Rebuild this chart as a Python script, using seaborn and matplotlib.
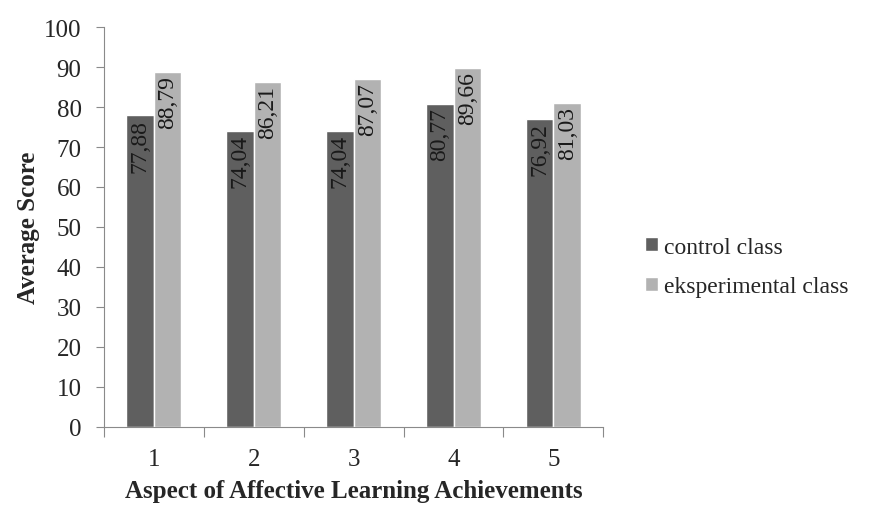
import pandas as pd
import numpy as np
import matplotlib
matplotlib.use('Agg')
import matplotlib.pyplot as plt
import seaborn as sns

# data
aspects = ['1', '2', '3', '4', '5']
control = [77.88, 74.04, 74.04, 80.77, 76.92]
experimental = [88.79, 86.21, 87.07, 89.66, 81.03]
groups = ['control class', 'eksperimental class']
colors = ['#5f5f5f', '#b2b2b2']

df = pd.DataFrame({
    'aspect': aspects * 2,
    'score': control + experimental,
    'group': [groups[0]] * 5 + [groups[1]] * 5,
})

sns.set_style('white')
plt.rcParams['font.family'] = ['Liberation Serif', 'DejaVu Serif']

fig = plt.figure(figsize=(8.72, 5.1), dpi=100)
ax = fig.add_axes([0.119, 0.161, 0.573, 0.784])

sns.barplot(data=df, x='aspect', y='score', hue='group', palette=colors,
            width=0.55, saturation=1, ax=ax)

# value labels, rotated, inside the top of each bar
for container in ax.containers:
    for bar in container:
        h = bar.get_height()
        ax.text(bar.get_x() + bar.get_width() / 2, h - 0.8,
                f'{h:.2f}'.replace('.', ','), rotation=90,
                ha='center', va='top', fontsize=17, color='#1a1a1a')

ax.set_ylim(0, 100)
ax.set_yticks(range(0, 101, 10))
ax.set_xlim(-0.5, 4.5)
ax.set_xticks(np.arange(-0.5, 5, 1))
ax.set_xticklabels([])
ax.set_xticks(range(5), minor=True)
ax.set_xticklabels(aspects, minor=True)
ax.tick_params(axis='x', which='major', length=7, direction='out', color='#8a8a8a', bottom=True)
ax.tick_params(axis='x', which='minor', length=0, labelsize=18, pad=15)
ax.tick_params(axis='y', length=6, direction='out', color='#8a8a8a', left=True, labelsize=18, pad=10)

for s in ['top', 'right']:
    ax.spines[s].set_visible(False)
for s in ['left', 'bottom']:
    ax.spines[s].set_color('#8a8a8a')

ax.set_xlabel('Aspect of Affective Learning Achievements', fontsize=18, fontweight='bold', labelpad=7)
ax.set_ylabel('Average Score', fontsize=18, fontweight='bold', labelpad=3)

ax.legend(loc='center left', bbox_to_anchor=(1.04, 0.40), frameon=False,
          fontsize=17, handlelength=0.55, handleheight=0.55, handletextpad=0.25,
          labelspacing=0.8)

fig.savefig('out.png', dpi=100)
